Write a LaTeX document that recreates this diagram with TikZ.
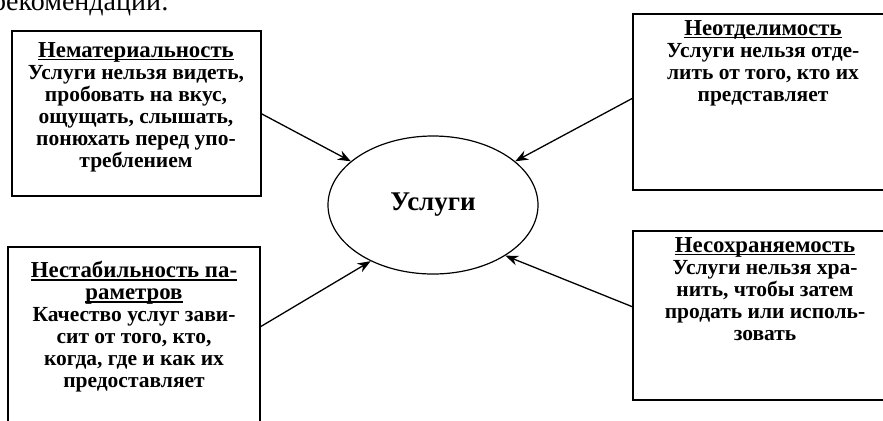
\documentclass[tikz,border=0pt]{standalone}
\usepackage{fontspec}
\setmainfont{Liberation Serif}
\usetikzlibrary{shapes.geometric,arrows.meta}
\newcommand\ulin[1]{\setbox0\hbox{\fontsize{22.8bp}{22bp}\selectfont #1}\rlap{\rule[-3bp]{\wd0}{1.4bp}}\box0}
\begin{document}
\begin{tikzpicture}[x=1bp,y=-1bp,
  frame/.style={draw,line width=1.2bp,inner sep=0,outer sep=0,anchor=north west},
  txt/.style={align=center,inner sep=0,anchor=north,font=\fontsize{21.5bp}{22bp}\selectfont\bfseries},
  arr/.style={line width=1.3bp,-{Stealth[length=13bp,width=10bp]}}]
\useasboundingbox (0,0) rectangle (883,420);
\clip (0,0) rectangle (883,420);
\node[anchor=base west,inner sep=0,font=\fontsize{28bp}{30bp}\selectfont] (top) at (-8,10) {рекомендации:};
\node[frame,minimum width=249bp,minimum height=165bp] (b1) at (12,31) {};
\node[frame,minimum width=262bp,minimum height=176bp] (b2) at (633,14) {};
\node[frame,minimum width=252bp,minimum height=200bp] (b3) at (8,247) {};
\node[frame,minimum width=262bp,minimum height=169bp] (b4) at (633,231) {};
\node[draw,ellipse,line width=1.2bp,minimum width=210bp,minimum height=138bp,inner sep=0] (u) at (433,205)
  {\fontsize{27bp}{28bp}\selectfont\textbf{Услуги}};
\node[txt] (t1) at (136,42) {\ulin{Нематериальность}\\Услуги нельзя видеть,\\пробовать на вкус,\\ощущать, слышать,\\понюхать перед упо-\\треблением};
\node[txt] (t2) at (763,20) {\ulin{Неотделимость}\\Услуги нельзя отде-\\лить от того, кто их\\представляет};
\node[txt] (t3) at (134,261) {\ulin{Нестабильность па-}\\\ulin{раметров}\\Качество услуг зави-\\сит от того, кто,\\когда, где и как их\\предоставляет};
\node[txt] (t4) at (765,237) {\ulin{Несохраняемость}\\Услуги нельзя хра-\\нить, чтобы затем\\продать или исполь-\\зовать};
\draw[arr] (b1.east) -- (u.152);
\draw[arr] ([yshift=4bp]b2.west) -- (u.28);
\draw[arr] ([yshift=-80bp]b3.north east) -- (u.222);
\draw[arr] ([yshift=-76bp]b4.north west) -- (u.325);
\end{tikzpicture}
\end{document}
